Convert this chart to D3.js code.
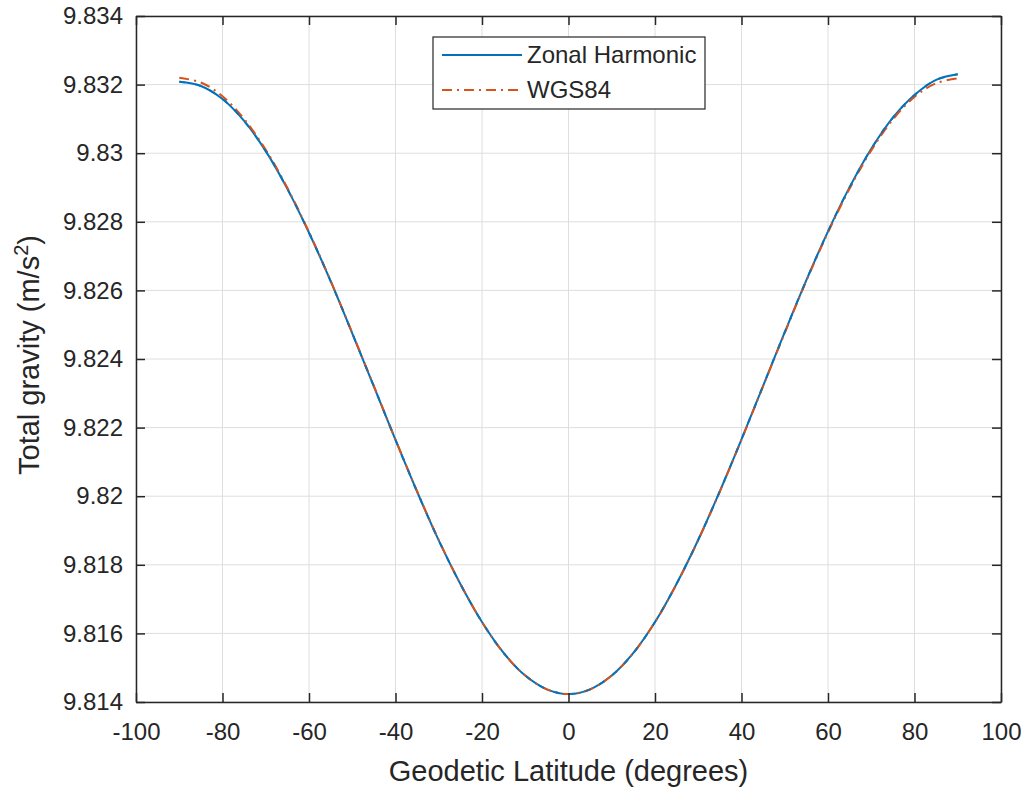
<!DOCTYPE html>
<html>
<head>
<meta charset="utf-8">
<script src="https://cdn.jsdelivr.net/npm/d3@7"></script>
<style>
  body { margin: 0; background: #fff; }
  svg text { font-family: "Liberation Sans", Arial, sans-serif; fill: #262626; }
</style>
</head>
<body>
<svg id="chart" width="1027" height="787"></svg>
<script>
// latitude samples (degrees)
var latitudes = [-90, -85, -80, -75, -70, -65, -60, -55, -50, -45, -40, -35, -30, -25, -20, -15, -10, -5,
  0, 5, 10, 15, 20, 25, 30, 35, 40, 45, 50, 55, 60, 65, 70, 75, 80, 85, 90];

// gravity values (m/s^2)
var zonalValues = [9.83208, 9.83196, 9.83158, 9.83094, 9.83006, 9.82896, 9.82768, 9.82627, 9.82475, 9.82320,
  9.82164, 9.82013, 9.81871, 9.81744, 9.81633, 9.81543, 9.81477, 9.81437,
  9.81423, 9.81437, 9.81477, 9.81543, 9.81633, 9.81745, 9.81873, 9.82015, 9.82166, 9.82322, 9.82478,
  9.82630, 9.82772, 9.82901, 9.83013, 9.83104, 9.83170, 9.83214, 9.83230];

var wgs84Values = [9.83220, 9.83206, 9.83166, 9.83100, 9.83010, 9.82899, 9.82770, 9.82628, 9.82476, 9.82321,
  9.82165, 9.82014, 9.81872, 9.81744, 9.81633, 9.81543, 9.81477, 9.81437,
  9.81423, 9.81437, 9.81477, 9.81543, 9.81633, 9.81744, 9.81872, 9.82014, 9.82165, 9.82321, 9.82476,
  9.82628, 9.82769, 9.82897, 9.83008, 9.83098, 9.83164, 9.83204, 9.83218];

var xTicks = [-100, -80, -60, -40, -20, 0, 20, 40, 60, 80, 100];
var yTicks = [9.814, 9.816, 9.818, 9.82, 9.822, 9.824, 9.826, 9.828, 9.83, 9.832, 9.834];

var seriesNames = ['Zonal Harmonic', 'WGS84'];
var seriesColors = ['#0072BD', '#D95319'];

var margin = { left: 136, right: 26, top: 16, bottom: 85 };
var width = 1027, height = 787;

var svg = d3.select('#chart');

var x = d3.scaleLinear().domain([-100, 100]).range([margin.left, width - margin.right]);
var y = d3.scaleLinear().domain([9.814, 9.834]).range([height - margin.bottom, margin.top]);

// MATLAB-like labels: plain hyphen, trailing zeros dropped
var fmtX = function(d) { return String(d); };
var fmtY = function(d) { return String(+d.toFixed(3)); };

// grid
var grid = svg.append('g').attr('class', 'grid');
grid.selectAll('line.vx')
  .data(xTicks)
  .enter().append('line')
  .attr('x1', function(d) { return x(d); })
  .attr('x2', function(d) { return x(d); })
  .attr('y1', y.range()[1])
  .attr('y2', y.range()[0])
  .attr('stroke', '#dedede')
  .attr('stroke-width', 1);
grid.selectAll('line.hy')
  .data(yTicks)
  .enter().append('line')
  .attr('y1', function(d) { return y(d); })
  .attr('y2', function(d) { return y(d); })
  .attr('x1', x.range()[0])
  .attr('x2', x.range()[1])
  .attr('stroke', '#dedede')
  .attr('stroke-width', 1);

// lines
var line = d3.line()
  .x(function(d) { return x(d[0]); })
  .y(function(d) { return y(d[1]); })
  .curve(d3.curveCatmullRom);

var zonalData = d3.zip(latitudes, zonalValues);
var wgsData = d3.zip(latitudes, wgs84Values);

svg.append('path')
  .datum(zonalData)
  .attr('d', line)
  .attr('fill', 'none')
  .attr('stroke', seriesColors[0])
  .attr('stroke-width', 2);

svg.append('path')
  .datum(wgsData)
  .attr('d', line)
  .attr('fill', 'none')
  .attr('stroke', seriesColors[1])
  .attr('stroke-width', 2)
  .attr('stroke-dasharray', '10,5,2,5');

// blue shows through the dashes like in the reference
svg.append('path')
  .datum(zonalData)
  .attr('d', line)
  .attr('fill', 'none')
  .attr('stroke', seriesColors[0])
  .attr('stroke-width', 2)
  .attr('stroke-dasharray', '6,10')
  .attr('opacity', 0.8);

// axes (MATLAB style: inward ticks, box)
var axisColor = '#262626';
var xAxis = d3.axisBottom(x).tickValues(xTicks).tickSizeInner(-9).tickSizeOuter(0).tickPadding(21).tickFormat(fmtX);
var xAxisTop = d3.axisTop(x).tickValues(xTicks).tickSizeInner(-9).tickSizeOuter(0).tickFormat('');
var yAxis = d3.axisLeft(y).tickValues(yTicks).tickSizeInner(-9).tickSizeOuter(0).tickPadding(13).tickFormat(fmtY);
var yAxisRight = d3.axisRight(y).tickValues(yTicks).tickSizeInner(-9).tickSizeOuter(0).tickFormat('');

var styleAxis = function(g) {
  g.select('.domain').attr('stroke', axisColor).attr('stroke-width', 1.5);
  g.selectAll('.tick line').attr('stroke', axisColor).attr('stroke-width', 1.5);
  g.selectAll('.tick text').attr('fill', axisColor).style('font-size', '24px')
    .style('font-family', '"Liberation Sans", Arial, sans-serif');
};

svg.append('g').attr('transform', 'translate(0,' + y.range()[0] + ')').call(xAxis).call(styleAxis);
svg.append('g').attr('transform', 'translate(0,' + y.range()[1] + ')').call(xAxisTop).call(styleAxis);
svg.append('g').attr('transform', 'translate(' + x.range()[0] + ',0)').call(yAxis).call(styleAxis);
svg.append('g').attr('transform', 'translate(' + x.range()[1] + ',0)').call(yAxisRight).call(styleAxis);

// axis labels
svg.append('text')
  .attr('x', (x.range()[0] + x.range()[1]) / 2)
  .attr('y', 781)
  .attr('text-anchor', 'middle')
  .style('font-size', '29px')
  .text('Geodetic Latitude (degrees)');

var yLabel = svg.append('text')
  .attr('transform', 'translate(39,' + 355 + ') rotate(-90)')
  .attr('text-anchor', 'middle')
  .style('font-size', '29px');
yLabel.append('tspan').text('Total gravity (m/s');
yLabel.append('tspan').attr('dy', -11).style('font-size', '20px').text('2');
yLabel.append('tspan').attr('dy', 11).text(')');

// legend
var legend = svg.append('g').attr('transform', 'translate(433,37)');
legend.append('rect')
  .attr('width', 272).attr('height', 72)
  .attr('fill', '#fff')
  .attr('stroke', axisColor)
  .attr('stroke-width', 1.2);

var items = legend.selectAll('g.item')
  .data(seriesNames)
  .enter().append('g')
  .attr('class', 'item')
  .attr('transform', function(d, i) { return 'translate(0,' + (18 + i * 35) + ')'; });

items.append('line')
  .attr('x1', 9).attr('x2', 89)
  .attr('stroke', function(d, i) { return seriesColors[i]; })
  .attr('stroke-width', 2)
  .attr('stroke-dasharray', function(d, i) { return i === 1 ? '10,5,2,5' : null; });

items.append('text')
  .attr('x', 94)
  .attr('dy', '0.35em')
  .style('font-size', '24px')
  .text(function(d) { return d; });
</script>
</body>
</html>
